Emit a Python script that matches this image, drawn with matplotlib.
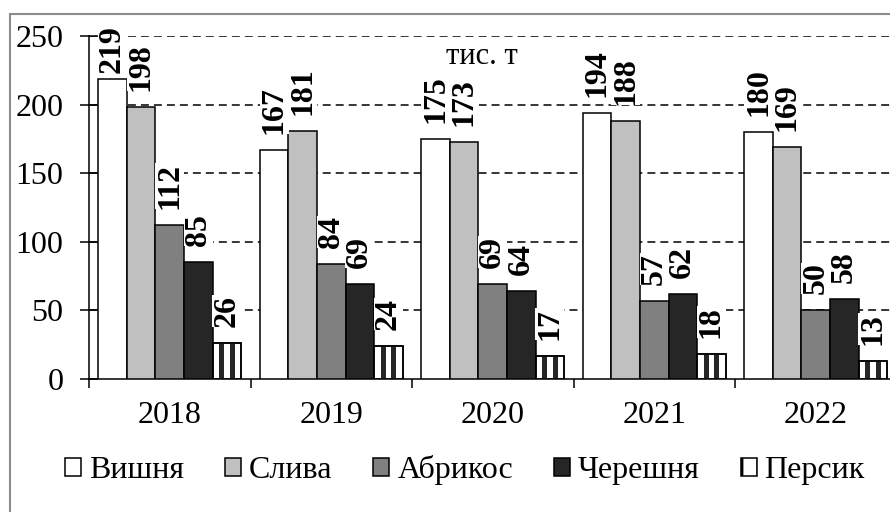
import matplotlib.pyplot as plt
import matplotlib.patches as mpatches
import numpy as np

years = ['2018', '2019', '2020', '2021', '2022']
series = ['Вишня', 'Слива', 'Абрикос', 'Черешня', 'Персик']
vyshnia = [219, 167, 175, 194, 180]
slyva = [198, 181, 173, 188, 169]
abrykos = [112, 84, 69, 57, 50]
chereshnia = [85, 69, 64, 62, 58]
persyk = [26, 24, 17, 18, 13]
values = [vyshnia, slyva, abrykos, chereshnia, persyk]
colors = ['white', '#c0c0c0', '#808080', '#262626', 'white']
unit_label = 'тис. т'


def main():
    plt.rcParams['font.family'] = ['Liberation Serif', 'DejaVu Serif']
    plt.rcParams['hatch.linewidth'] = 2.5
    plt.rcParams['hatch.color'] = '#262626'

    W, H = 890, 512
    fig = plt.figure(figsize=(W / 100, H / 100), dpi=100)
    ax = fig.add_axes([89 / W, 133 / H, 807.5 / W, 343 / H])
    ax.set_xlim(-0.5, 4.5)
    ax.set_ylim(0, 250)

    # outer chart border (cut off at right and bottom like the original)
    fig.patches.append(mpatches.Rectangle((10 / W, -0.1), 1.2, 1 - 14 / H + 0.1,
                                          transform=fig.transFigure, fill=False,
                                          edgecolor='#8c8c8c', lw=1.5))

    x = np.arange(len(years))
    bw = 0.177
    fs = 23
    fs_px = fs * 100 / 72
    for i, (name, vals) in enumerate(zip(series, values)):
        xs = x - 2.5 * bw + (i + 0.5) * bw
        ax.bar(xs, vals, width=bw, color=colors[i], edgecolor='black',
               linewidth=1.1, zorder=3)
        if name == 'Персик':
            # vertical stripes inside the peach bars
            for dx in (-0.175 * bw, 0.185 * bw):
                ax.bar(xs + dx, vals, width=0.18 * bw, color='#262626',
                       linewidth=0, zorder=4)
            ax.bar(xs, vals, width=bw, fill=False, edgecolor='black',
                   linewidth=1.1, zorder=4)
        for xv, v in zip(xs, vals):
            top_px = ax.transData.transform((xv, v))[1]
            label_len = len(str(v)) * 0.5 * fs_px
            avail = (H - 25) - top_px - label_len
            off = min(16, avail) * 72 / 100
            ax.annotate(str(v), (xv, v), xytext=(0, off), textcoords='offset points',
                        rotation=90, ha='center', va='bottom', fontsize=fs,
                        fontweight='bold', zorder=5,
                        bbox=dict(facecolor='white', edgecolor='none', pad=0))

    ax.set_yticks(range(0, 251, 50))
    for yv in range(50, 251, 50):
        ax.axhline(yv, color='black', lw=1.1, ls=(0, (5.2, 3.3)), zorder=1)

    ax.set_xticks(x)
    ax.set_xticklabels(years, fontsize=fs)
    ax.set_xticks(np.arange(-0.5, 4.6, 1), minor=True)
    ax.tick_params(axis='x', which='major', length=0, pad=16)
    ax.tick_params(axis='x', which='minor', direction='out', length=6.5, width=1.1)
    ax.tick_params(axis='y', direction='inout', length=13, width=1.1, labelsize=fs, pad=12)
    for s in ['top', 'right']:
        ax.spines[s].set_visible(False)
    for s in ['left', 'bottom']:
        ax.spines[s].set_linewidth(1.1)

    ax.text(482 / W, 1 - 56 / H, unit_label, transform=fig.transFigure,
            ha='center', va='center', fontsize=22)

    handles = []
    for i, name in enumerate(series):
        hatch = '|' if name == 'Персик' else None
        handles.append(mpatches.Patch(facecolor=colors[i], edgecolor='black',
                                      linewidth=1.1, hatch=hatch, label=name))
    fig.legend(handles=handles, loc='center', bbox_to_anchor=(465 / W, 1 - 470 / H),
               ncol=5, frameon=False, fontsize=fs, handlelength=0.5, handleheight=0.5,
               handletextpad=0.25, columnspacing=1.28, borderaxespad=0)

    fig.savefig('out.png', dpi=100)


if __name__ == "__main__":
    main()
